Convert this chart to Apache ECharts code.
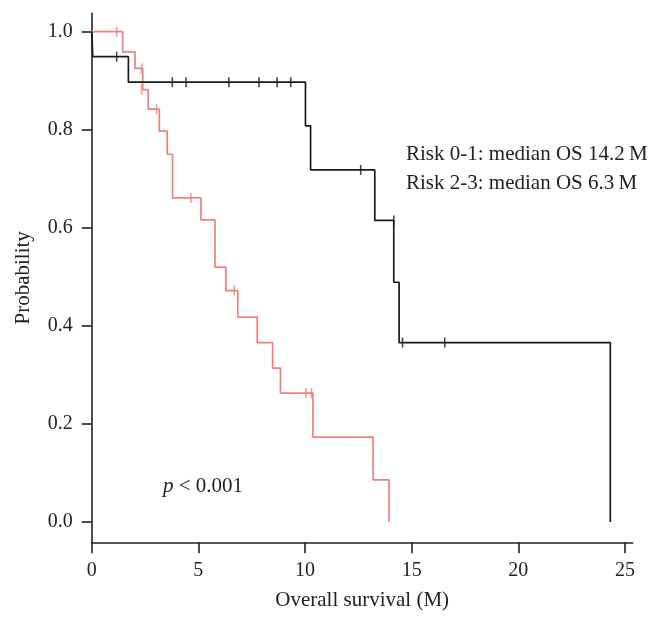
<!DOCTYPE html>
<html>
<head>
<meta charset="utf-8">
<script src="https://cdn.jsdelivr.net/npm/echarts@6/dist/echarts.min.js"></script>
<style>
html,body{margin:0;padding:0;background:#fff;}
#chart{width:668px;height:627px;}
</style>
</head>
<body>
<div id="chart"></div>
<script>
// Risk 0-1 (black) step curve
const lowRiskTimes = [0, 0.05, 1.72, 10.02, 10.26, 13.27, 14.16, 14.41, 24.31];
const lowRiskSurv  = [1.0, 0.949, 0.897, 0.808, 0.718, 0.615, 0.489, 0.366, 0.0];
const lowRiskCensorTimes = [1.17, 3.78, 4.42, 6.43, 7.84, 8.69, 9.33, 12.61, 14.16, 14.57, 16.55];
const lowRiskCensorSurv  = [0.949, 0.897, 0.897, 0.897, 0.897, 0.897, 0.897, 0.718, 0.615, 0.366, 0.366];

// Risk 2-3 (red) step curve
const highRiskTimes = [0, 1.45, 2.03, 2.39, 2.65, 3.17, 3.54, 3.79, 5.12, 5.78, 6.29, 6.85, 7.76, 8.48, 8.85, 10.37, 13.19, 13.94];
const highRiskSurv  = [1.0, 0.959, 0.925, 0.882, 0.842, 0.797, 0.750, 0.661, 0.616, 0.520, 0.472, 0.418, 0.366, 0.314, 0.263, 0.173, 0.086, 0.0];
const highRiskCensorTimes = [1.17, 2.34, 2.34, 3.04, 4.65, 6.68, 10.04, 10.30];
const highRiskCensorSurv  = [1.0, 0.925, 0.882, 0.842, 0.661, 0.472, 0.263, 0.263];

const xTicks = [0, 5, 10, 15, 20, 25];
const yTicks = [0, 0.2, 0.4, 0.6, 0.8, 1.0];

const zip = (a, b) => a.map((v, i) => [v, b[i]]);
const FONT = '"Liberation Serif", "DejaVu Serif", serif';
const BLACK = '#1a1a1a';
const RED = '#f07f80';

const chart = echarts.init(document.getElementById('chart'), null, {renderer: 'canvas'});
chart.setOption({
  animation: false,
  backgroundColor: '#fff',
  grid: {left: 91.7, right: 35.3, top: 13.3, bottom: 84.7, containLabel: false},
  xAxis: {
    type: 'value', min: 0, max: 25.36,
    name: 'Overall survival (M)', nameLocation: 'middle', nameGap: 48,
    nameTextStyle: {fontFamily: FONT, fontSize: 21, color: '#222'},
    axisLine: {show: true, onZero: false, lineStyle: {color: '#222', width: 1.6}},
    axisTick: {show: true, length: 11, customValues: xTicks, lineStyle: {color: '#222', width: 1.6}},
    axisLabel: {customValues: xTicks, margin: 18, fontFamily: FONT, fontSize: 20, color: '#222'},
    splitLine: {show: false}
  },
  yAxis: {
    type: 'value', min: -0.0414, max: 1.0375,
    name: 'Probability', nameLocation: 'middle', nameGap: 58, nameRotate: 90,
    nameTextStyle: {fontFamily: FONT, fontSize: 21, color: '#222'},
    axisLine: {show: true, onZero: false, lineStyle: {color: '#222', width: 1.6}},
    axisTick: {show: true, length: 10, customValues: yTicks, lineStyle: {color: '#222', width: 1.6}},
    axisLabel: {customValues: yTicks, margin: 19, fontFamily: FONT, fontSize: 20, color: '#222',
      formatter: v => v.toFixed(1)},
    splitLine: {show: false}
  },
  series: [
    {type: 'line', step: 'end', data: zip(lowRiskTimes, lowRiskSurv), showSymbol: false,
     lineStyle: {color: BLACK, width: 1.7}, z: 3},
    {type: 'line', step: 'end', data: zip(highRiskTimes, highRiskSurv), showSymbol: false,
     lineStyle: {color: RED, width: 1.7}, z: 2},
    {type: 'scatter', data: zip(lowRiskCensorTimes, lowRiskCensorSurv), symbol: 'rect',
     symbolSize: [1.6, 10], itemStyle: {color: BLACK}, z: 4},
    {type: 'scatter', data: zip(highRiskCensorTimes, highRiskCensorSurv), symbol: 'rect',
     symbolSize: [1.6, 10], itemStyle: {color: RED}, z: 4}
  ],
  graphic: [
    {type: 'text', left: 406, top: 144, style: {text: 'Risk 0-1: median OS 14.2\u2009M', font: '21px ' + FONT, fill: '#222'}},
    {type: 'text', left: 406, top: 173, style: {text: 'Risk 2-3: median OS 6.3\u2009M', font: '21px ' + FONT, fill: '#222'}},
    {type: 'text', left: 163, top: 476, style: {
      text: '{i|p} < 0.001',
      rich: {i: {fontStyle: 'italic', fontFamily: FONT, fontSize: 21, fill: '#222'}},
      font: '21px ' + FONT, fill: '#222'}}
  ]
});
</script>
</body>
</html>
